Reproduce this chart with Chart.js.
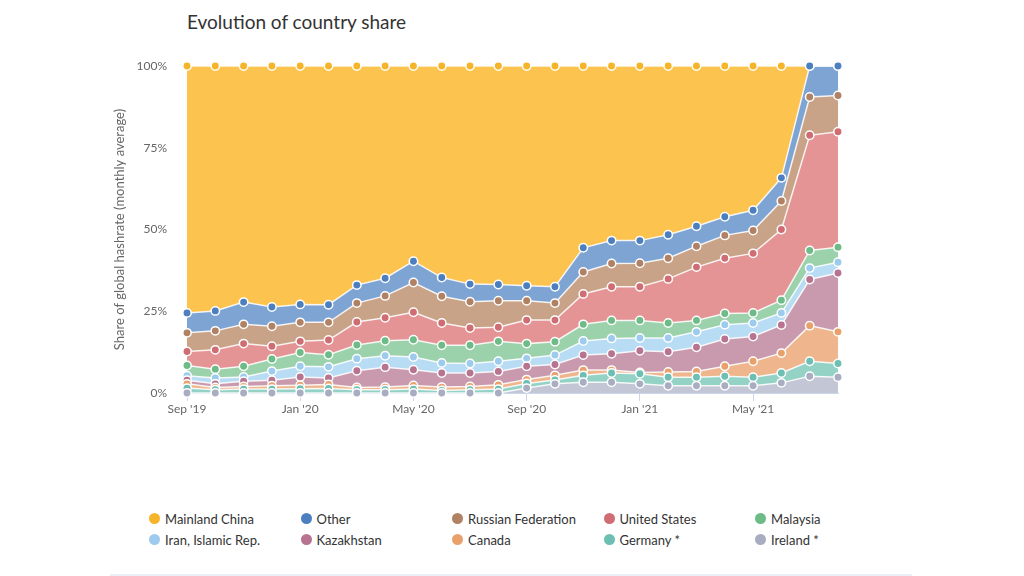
<!DOCTYPE html>
<html>
<head>
<meta charset="utf-8">
<script src="https://cdn.jsdelivr.net/npm/chart.js@4/dist/chart.umd.min.js"></script>
<style>
  body { margin: 0; background: #fff; font-family: Lato, sans-serif; }
  #wrap { position: relative; width: 1024px; height: 576px; overflow: hidden; }
  #title { position: absolute; left: 187px; top: 10px; font-size: 19px; color: #333; }
  #chart-box { position: absolute; left: 0; top: 0; width: 1024px; height: 440px; }
  .legend-item { position: absolute; font-size: 13px; color: #333; white-space: nowrap; line-height: 16px; }
  .legend-item span.dot { position: absolute; left: -16px; top: 2px; width: 11px; height: 11px; border-radius: 50%; }
  #bottom-line { position: absolute; left: 110px; top: 574px; width: 802px; height: 2px; background: #eaf0f7; }
</style>
</head>
<body>
<div id="wrap">
  <div id="title">Evolution of country share</div>
  <div id="chart-box"><canvas id="area-chart" width="1024" height="440"></canvas></div>
  <div id="legend"></div>
  <div id="bottom-line"></div>
</div>
<script>
// monthly categories
const months = ["Sep '19", "Oct '19", "Nov '19", "Dec '19", "Jan '20", "Feb '20", "Mar '20", "Apr '20",
  "May '20", "Jun '20", "Jul '20", "Aug '20", "Sep '20", "Oct '20", "Nov '20", "Dec '20",
  "Jan '21", "Feb '21", "Mar '21", "Apr '21", "May '21", "Jun '21", "Jul '21", "Aug '21"];

const yTicks = [0, 25, 50, 75, 100];

// share of hashrate per country (%)
const china = [75.5, 74.9, 72.2, 73.7, 72.9, 73.0, 67.0, 64.9, 59.7, 64.7, 66.7, 66.8, 67.2, 67.5, 55.6, 53.4, 53.4, 51.6, 49.0, 46.1, 44.1, 34.2, 0, 0];
const other = [6.1, 6.1, 6.8, 5.9, 5.5, 5.4, 5.5, 5.4, 6.5, 5.7, 5.4, 5.0, 4.6, 5.0, 7.4, 7.0, 6.9, 7.2, 6.1, 5.7, 6.2, 7.1, 9.5, 9.0];
const russia = [5.7, 5.8, 5.9, 6.1, 5.8, 5.4, 5.8, 6.7, 9.1, 8.2, 8.0, 8.1, 5.9, 5.2, 6.7, 7.1, 7.2, 6.3, 6.4, 7.0, 7.0, 8.7, 11.7, 11.1];
const usa = [4.3, 5.9, 6.9, 3.9, 3.4, 4.5, 7.0, 7.0, 8.4, 6.8, 5.3, 4.3, 7.2, 6.6, 9.3, 10.3, 10.3, 13.5, 16.3, 16.9, 18.2, 21.6, 35.2, 35.3];
const malaysia = [3.1, 2.7, 3.3, 3.7, 4.2, 3.7, 4.2, 4.6, 5.3, 5.4, 5.6, 6.1, 4.5, 4.1, 5.1, 5.5, 5.4, 4.6, 3.5, 3.4, 3.1, 3.9, 5.4, 4.6];
const iran = [1.4, 1.8, 1.3, 2.8, 3.3, 3.4, 3.7, 3.5, 3.9, 3.1, 2.9, 3.1, 2.4, 2.9, 4.3, 4.7, 3.9, 4.2, 4.7, 4.4, 4.1, 3.7, 3.5, 3.3];
const kazakhstan = [1.1, 1.1, 1.6, 1.7, 2.5, 2.0, 5.1, 6.1, 4.8, 4.3, 4.1, 4.1, 4.1, 3.3, 4.6, 5.0, 6.6, 6.2, 7.4, 8.3, 7.6, 8.6, 14.1, 18.0];
const canada = [1.3, 0.7, 0.8, 1.0, 1.1, 1.2, 0.7, 0.8, 1.1, 1.0, 1.0, 1.3, 1.2, 1.4, 1.6, 0.9, 0.4, 1.6, 1.8, 3.1, 4.9, 6.1, 10.9, 9.7];
const germany = [1.5, 1.0, 1.2, 1.2, 1.3, 1.4, 1.0, 1.0, 1.2, 0.8, 1.0, 1.2, 1.4, 1.2, 2.1, 2.8, 3.1, 2.6, 2.6, 2.9, 2.6, 3.0, 4.6, 4.2];
const ireland = [0, 0, 0, 0, 0, 0, 0, 0, 0, 0, 0, 0, 1.5, 2.8, 3.3, 3.3, 2.8, 2.2, 2.2, 2.2, 2.2, 3.1, 5.1, 4.8];

// legend order (top of stack first)
const names = ["Mainland China", "Other", "Russian Federation", "United States", "Malaysia",
  "Iran, Islamic Rep.", "Kazakhstan", "Canada", "Germany *", "Ireland *"];
const values = [china, other, russia, usa, malaysia, iran, kazakhstan, canada, germany, ireland];
const pointColors = ["#f6b42a", "#4c7fc0", "#b08163", "#cf6d72", "#6dbb86", "#9ccbee", "#b7738f", "#e9a16c", "#6cbfb2", "#a9adc2"];
const fillColors = ["#fcc34f", "#7ea4d4", "#c9a387", "#e49495", "#9cd2ab", "#b8dcf4", "#c99aae", "#efb68d", "#94d2c6", "#c3c6d4"];

function generateChart() {
  // chart.js stacks in dataset order, so bottom (Ireland) goes first
  const datasets = [];
  for (let i = names.length - 1; i >= 0; i--) {
    datasets.push({
      label: names[i],
      data: values[i],
      fill: datasets.length === 0 ? 'origin' : '-1',
      backgroundColor: fillColors[i],
      borderColor: 'rgba(255,255,255,0.85)',
      borderWidth: 1.5,
      pointRadius: 4.2,
      pointBackgroundColor: pointColors[i],
      pointBorderColor: '#fff',
      pointBorderWidth: 1.5,
      tension: 0,
      clip: false
    });
  }

  const options = {
    responsive: false,
    animation: false,
    layout: { padding: { left: 100, right: 186, top: 66, bottom: 0 } },
    scales: {
      x: {
        offset: false,
        ticks: {
          autoSkip: false,
          maxRotation: 0,
          padding: 1,
          color: '#666',
          font: { family: 'Lato', size: 12 },
          callback: (v, i) => (i % 4 === 0 ? months[i] : '')
        },
        grid: {
          drawOnChartArea: false,
          tickLength: 8,
          color: ctx => (ctx.index % 4 === 0 ? '#ccd6eb' : 'rgba(0,0,0,0)')
        },
        border: { color: '#ccd6eb' },
        afterFit: scale => { scale.height = 47; }
      },
      y: {
        stacked: true,
        min: 0,
        max: 100,
        afterBuildTicks: scale => { scale.ticks = yTicks.map(v => ({ value: v })); },
        ticks: {
          padding: 20,
          color: '#666',
          font: { family: 'Lato', size: 12 },
          callback: v => v + '%'
        },
        grid: { color: '#e6e6e6', drawTicks: false },
        border: { display: false },
        title: {
          display: true,
          text: 'Share of global hashrate (monthly average)',
          color: '#666',
          font: { family: 'Lato', size: 13 },
          padding: { top: 12, bottom: 0 }
        },
        afterFit: scale => { scale.width = 87; }
      }
    },
    plugins: {
      legend: { display: false },
      tooltip: { enabled: false },
      filler: { drawTime: 'beforeDatasetsDraw' }
    }
  };

  new Chart(document.getElementById('area-chart'), {
    type: 'line',
    data: { labels: months, datasets: datasets },
    options
  });
}

// html legend laid out in 5 columns like the original
function buildLegend() {
  const legend = document.getElementById('legend');
  names.forEach((name, i) => {
    const col = i % 5;
    const row = Math.floor(i / 5);
    const item = document.createElement('div');
    item.className = 'legend-item';
    item.style.left = (165 + col * 151.5) + 'px';
    item.style.top = (511 + row * 21) + 'px';
    item.innerHTML = '<span class="dot" style="background:' + pointColors[i] + '"></span>' + name;
    legend.appendChild(item);
  });
}

generateChart();
buildLegend();
</script>
</body>
</html>
